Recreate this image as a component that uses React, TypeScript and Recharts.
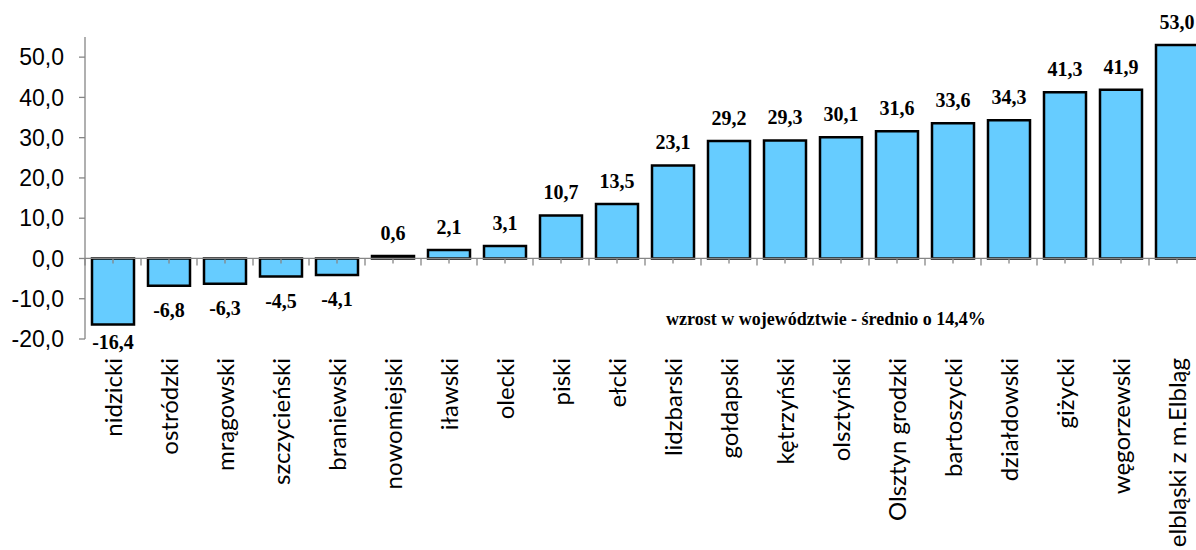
import React from "react";
import { BarChart, Bar, XAxis, YAxis, ReferenceLine, LabelList } from "recharts";

const categories = [
  "nidzicki", "ostródzki", "mrągowski", "szczycieński", "braniewski", "nowomiejski",
  "iławski", "olecki", "piski", "ełcki", "lidzbarski", "gołdapski", "kętrzyński",
  "olsztyński", "Olsztyn grodzki", "bartoszycki", "działdowski", "giżycki",
  "węgorzewski", "elbląski z m.Elbląg",
];
const values = [
  -16.4, -6.8, -6.3, -4.5, -4.1, 0.6, 2.1, 3.1, 10.7, 13.5, 23.1, 29.2, 29.3,
  30.1, 31.6, 33.6, 34.3, 41.3, 41.9, 53.0,
];
const yTicks = [-20, -10, 0, 10, 20, 30, 40, 50];
const annotation = "wzrost w województwie - średnio o 14,4%";

const data = categories.map((name, i) => ({ name, value: values[i] }));

const fmt = (v: number) => v.toFixed(1).replace(".", ",");
const AXIS = "#868686";

const XTick = (props: any) => {
  const { x, y, payload } = props;
  return (
    <text
      transform={`translate(${x},${y + 19}) rotate(-90)`}
      textAnchor="end"
      dy="0.36em"
      fontFamily="Lato"
      fontSize={24}
      fill="#000"
    >
      {payload.value}
    </text>
  );
};

const ValueLabel = (props: any) => {
  const { x, y, width, height, value } = props;
  const top = Math.min(y, y + height);
  const bottom = Math.max(y, y + height);
  const cx = x + width / 2;
  const ty = value >= 0 ? top - 16 : Math.min(bottom + 31, 349);
  return (
    <text
      x={cx}
      y={ty}
      textAnchor="middle"
      fontFamily="Liberation Serif"
      fontWeight="bold"
      fontSize={20}
      fill="#000"
    >
      {fmt(value)}
    </text>
  );
};

const ZeroLine = (props: any) => {
  const { x1, y1, x2 } = props;
  const n = categories.length;
  const step = (x2 - x1) / n;
  const ticks: React.ReactNode[] = [];
  for (let i = 0; i <= n; i++) {
    const bx = x1 + i * step;
    ticks.push(<line key={`b${i}`} x1={bx} x2={bx} y1={y1} y2={y1 + 7} stroke={AXIS} strokeWidth={1.3} />);
    if (i < n) {
      const cx = bx + step / 2;
      ticks.push(<line key={`c${i}`} x1={cx} x2={cx} y1={y1} y2={y1 + 5} stroke={AXIS} strokeWidth={1.3} />);
    }
  }
  return (
    <g>
      <line x1={x1} x2={x2} y1={y1} y2={y1} stroke={AXIS} strokeWidth={1.3} />
      {ticks}
    </g>
  );
};

export default function App() {
  return (
    <div
      style={{
        position: "absolute",
        left: 0,
        top: 0,
        width: 1196,
        height: 550,
        overflow: "hidden",
        background: "#fff",
      }}
    >
      <BarChart
        width={1212}
        height={550}
        data={data}
        margin={{ top: 37, right: 7, left: 0, bottom: 0 }}
      >
        <XAxis
          dataKey="name"
          height={211}
          axisLine={false}
          tickLine={false}
          tickSize={0}
          tickMargin={0}
          interval={0}
          tick={<XTick />}
        />
        <YAxis
          width={85}
          domain={[-20, 55]}
          ticks={yTicks}
          allowDataOverflow
          tickFormatter={fmt}
          axisLine={{ stroke: AXIS, strokeWidth: 1.3 }}
          tickLine={{ stroke: AXIS, strokeWidth: 1.3 }}
          tickSize={6}
          tickMargin={15}
          tick={{ fontFamily: "Liberation Sans", fontSize: 23, fill: "#000" }}
        />
        <Bar
          dataKey="value"
          fill="#66CCFF"
          stroke="#000"
          strokeWidth={2.5}
          barSize={42}
          isAnimationActive={false}
        >
          <LabelList dataKey="value" content={<ValueLabel />} />
        </Bar>
        <ReferenceLine y={0} shape={(p: any) => <ZeroLine {...p} />} />
      </BarChart>
      <div
        style={{
          position: "absolute",
          left: 666,
          top: 309,
          fontFamily: "Liberation Serif",
          fontWeight: "bold",
          fontSize: 18,
          whiteSpace: "nowrap",
          color: "#000",
        }}
      >
        {annotation}
      </div>
    </div>
  );
}
